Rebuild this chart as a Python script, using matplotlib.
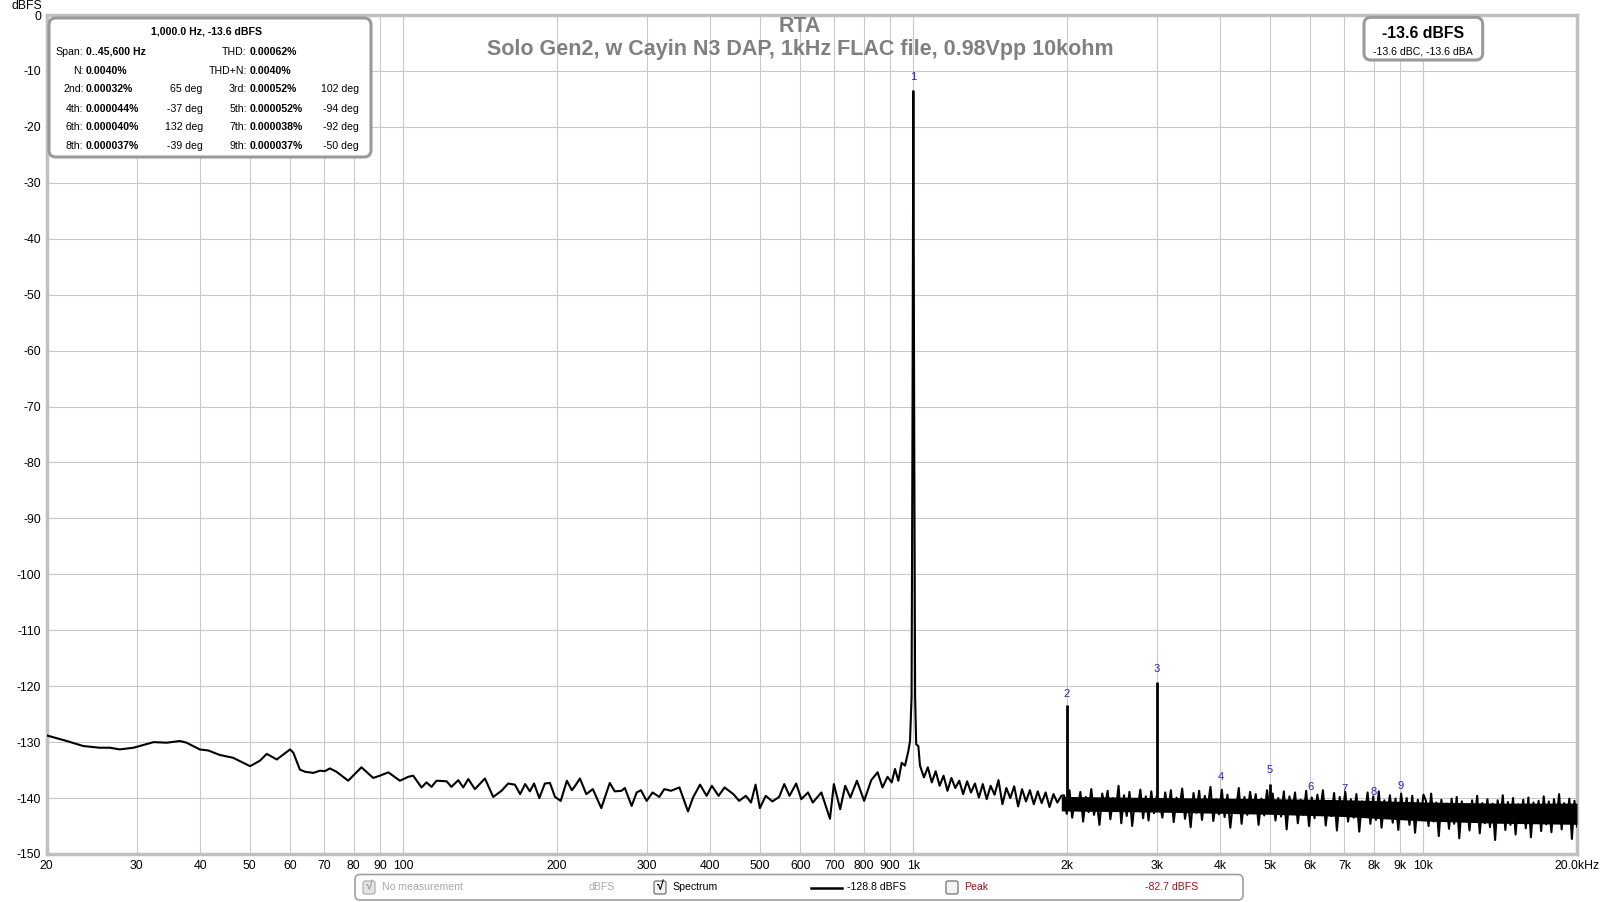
import numpy as np
import matplotlib
matplotlib.use("Agg")
import matplotlib.pyplot as plt
from matplotlib.patches import FancyBboxPatch
from matplotlib.ticker import NullLocator

plt.rcParams['font.family'] = ['Liberation Sans', 'DejaVu Sans']
plt.rcParams['axes.unicode_minus'] = False

# --- datos ---
# parte baja / media del espectro (Hz, dBFS)
low_f = [20, 21.9, 23.6, 25.4, 26.6, 27.8, 29.6, 32.4, 34.4, 36.5, 37.6, 39.9, 41.5, 43.7, 46.4,
         50.1, 52.4, 54.0, 56.5, 60.0, 60.9, 62.7, 64.2, 66.6, 68.7, 70.2, 71.8, 74.0, 78.0, 82.8,
         87.3, 90.0, 93.5, 98.5, 102.3, 104.6, 108.6, 111.1, 113.6, 116.2, 121.6, 124.3, 128.2,
         131.1, 134.1, 138.2, 144.6, 150.1, 155.8, 160.6, 165.5, 169.5, 173.4, 177.1, 180.5,
         184.8, 189.5, 193.9, 198.4, 203.6, 209.3, 214.1, 217.3, 222.0, 228.5, 235.3, 244.5,
         254.0, 259.8, 267.9, 271.9, 280.4, 286.8, 292.4, 300, 308.2, 317.6, 324.9, 334.9,
         347.9, 361.6, 369.9, 381.8, 393.3, 402.7, 415.1, 426.5, 443.8, 455.5, 469.5, 480.6,
         490.5, 500.2, 513.6, 529.2, 545.7, 558.4, 571.8, 589.2, 603.1, 621.6, 635.1, 660.2,
         686.3, 698.6, 718.7, 735.2, 752.6, 775.1, 800.8, 826.9, 851, 870, 890, 907, 920.6,
         934.6, 948.7, 963.1, 977.7, 985.1, 992, 996, 1000, 1004, 1008, 1013, 1022.8, 1030.5]
low_db = [-128.8, -129.8, -130.7, -131.0, -131.0, -131.3, -131.0, -130.0, -130.1, -129.8, -130.1,
          -131.3, -131.5, -132.3, -132.8, -134.3, -133.3, -132.1, -133.1, -131.3, -131.9, -134.9,
          -135.3, -135.5, -135.1, -135.2, -134.7, -135.3, -136.9, -134.5, -136.4, -136.0, -135.4,
          -136.9, -136.2, -136.0, -138.1, -137.2, -138.0, -136.9, -137.0, -138.0, -136.8, -138.1,
          -136.6, -138.4, -136.5, -139.8, -138.7, -137.4, -137.6, -139.3, -137.5, -138.8, -137.4,
          -140.0, -137.4, -137.3, -139.8, -140.5, -136.9, -138.6, -137.8, -136.5, -139.3, -138.4,
          -141.8, -137.3, -138.8, -138.7, -138.2, -141.4, -139.0, -138.6, -140.5, -139.0, -139.8,
          -138.4, -138.7, -138.1, -142.4, -139.9, -137.6, -139.6, -137.8, -139.6, -138.1, -139.3,
          -140.5, -139.6, -140.8, -137.6, -141.8, -139.6, -140.6, -139.8, -137.5, -139.6, -137.4,
          -140.2, -139.0, -140.8, -139.0, -143.7, -137.5, -142.0, -137.8, -139.9, -136.9, -140.5,
          -136.8, -135.4, -138.1, -136.2, -137.2, -134.8, -136.9, -133.7, -134.2, -131.6, -129.8,
          -122.0, -75.0, -13.6, -75.0, -122.0, -130.4, -130.7, -134.2]

# ruido por encima de 1 kHz, leido por tramos
seg_1k_2k = [-136.3, -134.5, -137.2, -135.2, -137.8, -136.0, -138.7, -136.4, -138.2, -136.9, -139.3,
             -137.0, -139.0, -137.4, -139.9, -137.5, -140.2, -137.8, -139.4, -136.8, -141.1, -138.2,
             -140.0, -137.9, -141.5, -138.4, -140.6, -138.6, -141.1, -138.8, -140.9, -139.0, -141.6,
             -139.3, -140.8, -139.6]
seg_2k_3k = [-139.5, -142.8, -138.6, -143.5, -140.2, -141.8, -138.9, -144.2, -139.8, -142.5, -138.4,
             -143.0, -140.5, -144.8, -139.2, -141.6, -138.7, -143.8, -140.0, -142.2, -137.8, -144.5,
             -139.5, -143.2, -138.9, -145.0, -140.3, -142.0, -138.5, -143.6, -139.7, -144.0, -138.8,
             -142.7, -139.6]
seg_3k_5k = [-140.8, -143.5, -139.0, -142.4, -138.6, -144.3, -139.9, -142.0, -138.3, -143.7, -140.4,
             -145.2, -139.1, -142.6, -138.7, -143.9, -139.6, -141.8, -138.0, -144.1, -140.2, -142.9,
             -138.5, -143.4, -139.4, -145.3, -140.6, -142.1, -138.2, -144.6, -139.8, -143.0, -138.9,
             -142.3, -139.3, -144.8, -140.1, -143.1, -138.6, -142.7]
seg_5k_10k = [-139.2, -144.0, -140.0, -143.3, -138.8, -145.6, -139.7, -142.6, -139.0, -144.5, -140.3,
              -143.0, -138.7, -145.0, -139.9, -143.6, -139.4, -142.4, -138.6, -144.9, -140.5, -143.2,
              -139.1, -145.8, -139.8, -142.8, -138.9, -144.2, -140.2, -143.5, -139.3, -146.0, -140.6,
              -143.1, -139.0, -144.6, -139.7, -143.9, -138.8, -145.3, -140.4, -142.9, -139.5, -144.4,
              -140.1, -145.7, -139.2, -143.4, -140.0, -144.8, -139.6, -146.2, -140.3, -143.7, -139.4]
seg_10k_20k = [-140.5, -145.0, -139.2, -144.2, -140.8, -146.8, -140.3, -143.8, -141.0, -145.5, -140.1,
               -144.6, -139.8, -147.2, -140.6, -144.0, -141.2, -145.8, -140.4, -143.9, -139.6, -146.3,
               -140.9, -144.5, -140.2, -145.2, -141.0, -147.5, -140.4, -144.1, -139.5, -145.7, -140.7,
               -144.8, -140.0, -146.5, -141.1, -143.7, -140.3, -145.4, -139.9, -147.0, -140.8, -144.3,
               -140.5, -145.9, -139.7, -144.7, -140.6, -146.1, -140.2, -143.9, -139.3, -145.6, -140.9,
               -144.4, -140.1, -147.3, -140.5, -145.1]
seg_edges = [1030.5, 1950, 3000, 5000, 10000, 20000]

# cuerpo macizo de la banda de ruido (envolvente interior)
env_f = [1950, 3000, 5000, 7000, 10000, 14000, 20000]
env_hi = [-139.7, -139.9, -140.1, -140.3, -140.7, -140.9, -140.9]
env_lo = [-142.3, -142.5, -142.9, -143.3, -144.1, -144.5, -144.7]

# armonicos
harm_f = [2000, 3000, 5000]
harm_db = [-123.3, -119.2, -137.5]
marker_f = [1000, 2000, 3000, 4000, 5000, 6000, 7000, 8000, 9000]
marker_db = [-11.0, -121.4, -116.9, -136.3, -135.0, -138.0, -138.4, -139.0, -137.9]

xtick_vals = [20, 30, 40, 50, 60, 70, 80, 90, 100, 200, 300, 400, 500, 600, 700, 800, 900,
              1000, 2000, 3000, 4000, 5000, 6000, 7000, 8000, 9000, 10000, 20000]
xtick_labels = ['20', '30', '40', '50', '60', '70', '80', '90', '100', '200', '300', '400', '500',
                '600', '700', '800', '900', '1k', '2k', '3k', '4k', '5k', '6k', '7k', '8k', '9k',
                '10k', '20.0kHz']
ytick_vals = list(range(0, -151, -10))

# --- armar la serie completa ---
segs = [seg_1k_2k, seg_2k_3k, seg_3k_5k, seg_5k_10k, seg_10k_20k]
hf_f, hf_db = [], []
for i, s in enumerate(segs):
    ff = np.geomspace(seg_edges[i], seg_edges[i + 1], len(s) + 1)[1:]
    hf_f.extend(ff)
    hf_db.extend(s)
freqs = np.concatenate([low_f, hf_f])
levels = np.concatenate([low_db, hf_db])

W, H = 1600, 902
fig = plt.figure(figsize=(16, 9.02), dpi=100)
ax = fig.add_axes([46.7 / W, 1 - 854 / H, (1577 - 46.7) / W, (854 - 15) / H])

ax.set_xscale('log')
ax.set_xlim(20, 20000)
ax.set_ylim(-150, 0)
ax.xaxis.set_minor_locator(NullLocator())
ax.set_xticks(xtick_vals, xtick_labels)
ax.set_yticks(ytick_vals)
ax.tick_params(length=0, labelsize=8.8, pad=4, colors='black')
ax.grid(True, color='#c8c8c8', lw=0.75, zorder=0)
for d in [100, 1000, 10000]:
    ax.axvline(d, color='#8a8a8a', lw=0.75, zorder=1)
for sp in ax.spines.values():
    sp.set_color('#c0c0c0')
    sp.set_linewidth(2.5)

ax.fill_between(env_f, env_lo, env_hi, color='black', lw=0, zorder=3)
ax.plot(freqs, levels, color='black', lw=1.5, zorder=3)
ax.vlines(harm_f, -141, harm_db, color='black', lw=2, zorder=3)

for i, (f, d) in enumerate(zip(marker_f, marker_db)):
    ax.text(f, d, str(i + 1), color='#2424a8', fontsize=8, ha='center', va='center', zorder=4)


def px(x, y):
    return x / W, 1 - y / H


def rbox(x0, y0, x1, y1, r=7, lw=2.2, ec='#9a9a9a'):
    b = FancyBboxPatch(px(x0, y1), (x1 - x0) / W, (y1 - y0) / H,
                       boxstyle='round,pad=0,rounding_size=%f' % (r / W),
                       transform=fig.transFigure, fc='white', ec=ec, lw=lw, zorder=5,
                       mutation_aspect=W / H)
    fig.add_artist(b)


def ftext(x, y, s, **kw):
    kw.setdefault('fontsize', 7.6)
    kw.setdefault('va', 'center')
    kw.setdefault('zorder', 6)
    fig.text(*px(x, y), s, **kw)


# titulos
ftext(800, 27, 'RTA', fontsize=15.5, fontweight='bold', color='#808080', ha='center')
ftext(800, 50, 'Solo Gen2, w Cayin N3 DAP, 1kHz FLAC file, 0.98Vpp 10kohm',
      fontsize=15.5, fontweight='bold', color='#808080', ha='center')
ftext(27, 6, 'dBFS', fontsize=8.8, ha='center')

# cuadro de distorsion
rbox(49, 18, 371, 157)
ftext(207, 32, '1,000.0 Hz, -13.6 dBFS', fontweight='bold', ha='center')
rows = [('Span:', '0..45,600 Hz', '', 'THD:', '0.00062%', ''),
        ('N:', '0.0040%', '', 'THD+N:', '0.0040%', ''),
        ('2nd:', '0.00032%', '65 deg', '3rd:', '0.00052%', '102 deg'),
        ('4th:', '0.000044%', '-37 deg', '5th:', '0.000052%', '-94 deg'),
        ('6th:', '0.000040%', '132 deg', '7th:', '0.000038%', '-92 deg'),
        ('8th:', '0.000037%', '-39 deg', '9th:', '0.000037%', '-50 deg')]
row_y = [51.7, 70.7, 89.3, 108.7, 127.3, 146]
for (l1, v1, p1, l2, v2, p2), y in zip(rows, row_y):
    ftext(83.5, y, l1, ha='right')
    ftext(86, y, v1, ha='left', fontweight='bold')
    ftext(202.7, y, p1, ha='right')
    ftext(246.7, y, l2, ha='right')
    ftext(250, y, v2, ha='left', fontweight='bold')
    ftext(359, y, p2, ha='right')

# cuadro de nivel
rbox(1364, 17.3, 1482.7, 60)
ftext(1423, 33.3, '-13.6 dBFS', fontsize=11.4, fontweight='bold', ha='center')
ftext(1423, 51.7, '-13.6 dBC, -13.6 dBA', fontsize=7.6, ha='center')

# leyenda inferior
rbox(355, 874.5, 1243, 900, r=5, lw=1.2, ec='#a0a0a0')
ly = 887.5


def checkbox(x, checked, grey=False):
    ec = '#b0b0b0' if grey else '#707070'
    fc = '#e4e4e4' if grey else '#f4f4f4'
    b = FancyBboxPatch(px(x, ly + 6.5), 12 / W, 13 / H,
                       boxstyle='round,pad=0,rounding_size=%f' % (2 / W),
                       transform=fig.transFigure, fc=fc, ec=ec, lw=0.9, zorder=6,
                       mutation_aspect=W / H)
    fig.add_artist(b)
    if checked:
        ftext(x + 6, ly, '\u221a', fontsize=9, ha='center',
              color='#a0a0a0' if grey else 'black', fontweight='bold')


checkbox(363, True, grey=True)
ftext(381.6, ly, 'No measurement', color='#a8a8a8')
ftext(615, ly, 'dBFS', color='#a8a8a8', ha='right')
checkbox(654, True)
ftext(672.4, ly, 'Spectrum')
fig.add_artist(plt.Line2D([811 / W, 842 / W], [1 - ly / H, 1 - ly / H], color='black', lw=1.8,
                          transform=fig.transFigure, zorder=6))
ftext(847, ly, '-128.8 dBFS')
checkbox(946, False)
ftext(964, ly, 'Peak', color='#8b1a1a')
ftext(1145, ly, '-82.7 dBFS', color='#8b1a1a')

fig.savefig('out.png', dpi=100, facecolor='white')
